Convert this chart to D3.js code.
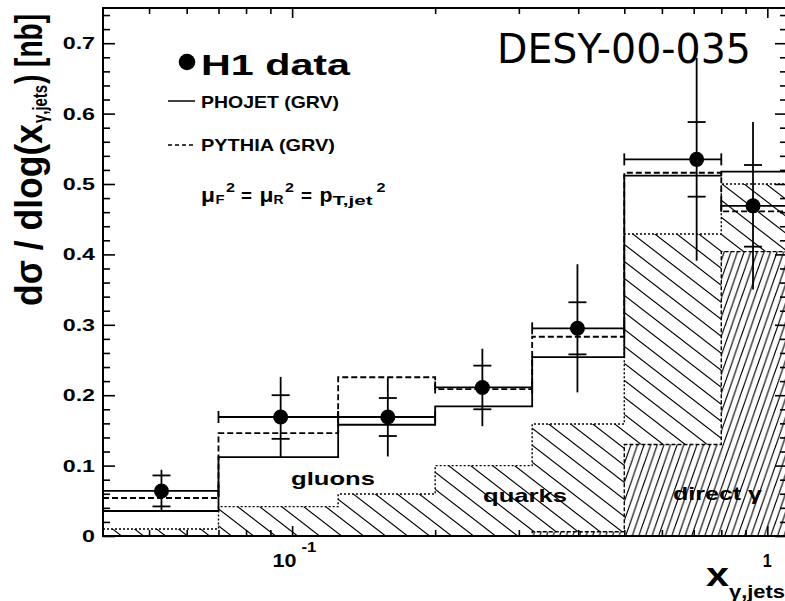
<!DOCTYPE html>
<html>
<head>
<meta charset="utf-8">
<script src="https://cdn.jsdelivr.net/npm/d3@7"></script>
<style>
  body { margin: 0; background: #fff; }
  svg { display: block; }
  text { font-family: "Liberation Sans", Arial, Helvetica, sans-serif; font-weight: bold; fill: #000; }
</style>
</head>
<body>
<svg id="chart" width="785" height="601"></svg>
<script>
// x_gamma,jets bin edges (last bin runs off the right of the frame)
const binEdges = [0.04, 0.07, 0.125, 0.2, 0.32, 0.5, 0.8, 1.1];

// H1 data
const dataX = [0.0531, 0.0946, 0.159, 0.2514, 0.3985, 0.71, 0.933];
const dataY = [0.064, 0.169, 0.169, 0.211, 0.295, 0.535, 0.469];
const statErr = [0.022, 0.031, 0.027, 0.031, 0.037, 0.053, 0.058];
const totErr = [0.030, 0.057, 0.056, 0.055, 0.091, 0.144, 0.119];

// Monte Carlo predictions
const phojet = [0.0355, 0.112, 0.158, 0.184, 0.254, 0.512, 0.5175];
const pythia = [0.054, 0.146, 0.2255, 0.2085, 0.283, 0.516, 0.461];
// stacked components: quarks (on top of direct) and direct photon
const quarks = [0.0099, 0.0417, 0.0597, 0.0999, 0.159, 0.429, 0.500];
const direct = [0, 0, 0, 0, 0.006, 0.130, 0.404];

const yTicks = [0, 0.1, 0.2, 0.3, 0.4, 0.5, 0.6, 0.7];
const yTickLabels = ['0', '0.1', '0.2', '0.3', '0.4', '0.5', '0.6', '0.7'];
const yMinorTicks = [0.02, 0.04, 0.06, 0.08, 0.12, 0.14, 0.16, 0.18, 0.22, 0.24, 0.26, 0.28,
    0.32, 0.34, 0.36, 0.38, 0.42, 0.44, 0.46, 0.48, 0.52, 0.54, 0.56, 0.58,
    0.62, 0.64, 0.66, 0.68, 0.72, 0.74];
const xTicks = [0.1, 1];
const xMinorTicks = [0.05, 0.06, 0.07, 0.08, 0.09, 0.2, 0.3, 0.4, 0.5, 0.6, 0.7, 0.8, 0.9];

const frame = { left: 103, top: 8, right: 787, bottom: 536 };

const svg = d3.select('#chart');
const x = d3.scaleLog().domain([0.04, 1.1]).range([frame.left, frame.right]);
const y = d3.scaleLinear().domain([0, 0.75]).range([frame.bottom, frame.top]);

const nBins = binEdges.length - 1;
const zeros = binEdges.slice(1).map(() => 0);
const valAt = (vals, i) => vals[Math.min(i, nBins - 1)];

const stepLine = d3.line().curve(d3.curveStepAfter).x(d => x(d[0])).y(d => y(d[1]));
const stepPoints = vals => binEdges.map((e, i) => [e, valAt(vals, i)]);
const stepArea = d3.area().curve(d3.curveStepAfter)
    .x(d => x(d.e)).y0(d => y(d.lo)).y1(d => y(d.hi));
const band = (lo, hi) => binEdges.map((e, i) => ({ e, lo: valAt(lo, i), hi: valAt(hi, i) }));

// hatch patterns
const defs = svg.append('defs');
function hatch(id, w, h, down) {
    const d = [-1, 0, 1].map(k => down
        ? `M${(k - 1) * w},${-h}L${(k + 2) * w},${2 * h}`
        : `M${(k - 1) * w},${2 * h}L${(k + 2) * w},${-h}`).join('');
    defs.append('pattern')
        .attr('id', id)
        .attr('patternUnits', 'userSpaceOnUse')
        .attr('width', w)
        .attr('height', h)
        .append('path')
        .attr('d', d)
        .attr('stroke', '#000')
        .attr('stroke-width', 1.1)
        .attr('fill', 'none');
}
hatch('hatch-quarks', 22, 17, true);
hatch('hatch-direct', 6.6, 19, false);

defs.append('clipPath').attr('id', 'plot-clip')
    .append('rect')
    .attr('x', frame.left).attr('y', frame.top)
    .attr('width', frame.right - frame.left).attr('height', frame.bottom - frame.top);

const plot = svg.append('g').attr('clip-path', 'url(#plot-clip)');

plot.append('path')
    .attr('d', stepArea(band(direct, quarks)))
    .attr('fill', 'url(#hatch-quarks)');
plot.append('path')
    .attr('d', stepArea(band(zeros, direct)))
    .attr('fill', 'url(#hatch-direct)');

const histo = (vals, dash, width) => plot.append('path')
    .attr('d', stepLine(stepPoints(vals)))
    .attr('fill', 'none')
    .attr('stroke', '#000')
    .attr('stroke-width', width)
    .attr('stroke-dasharray', dash);

histo(quarks, '2,2', 1.4);
histo(direct, '4,2', 1.4);
histo(pythia, '6,3', 1.8);
histo(phojet, null, 1.8);

// text helper: fixed width where the picture gives one
function put(parent, str, px, py, size, len, anchor = 'start') {
    const t = parent.append('text')
        .attr('x', px)
        .attr('y', py)
        .attr('font-size', size)
        .attr('text-anchor', anchor)
        .text(str);
    if (len) t.attr('textLength', len).attr('lengthAdjust', 'spacingAndGlyphs');
    return t;
}

put(svg, 'gluons', 291, 485, 19, 84);
put(svg, 'quarks', 483, 501.5, 19, 84);
put(svg, 'direct γ', 673, 500, 19, 89);

// data points with stat (inner ticks) and total errors
const points = dataX.map((xv, i) => ({
    xv, v: dataY[i], stat: statErr[i], tot: totErr[i], lo: binEdges[i], hi: binEdges[i + 1]
}));

const data = plot.append('g')
    .attr('stroke', '#000')
    .attr('stroke-width', 1.8);

const pt = data.selectAll('g.point')
    .data(points)
    .enter()
    .append('g')
    .attr('class', 'point');

pt.append('line')
    .attr('x1', d => x(d.lo)).attr('x2', d => x(d.hi))
    .attr('y1', d => y(d.v)).attr('y2', d => y(d.v));
pt.append('line')
    .attr('x1', d => x(d.lo)).attr('x2', d => x(d.lo))
    .attr('y1', d => y(d.v) - 6).attr('y2', d => y(d.v) + 6);
pt.append('line')
    .attr('x1', d => x(d.hi)).attr('x2', d => x(d.hi))
    .attr('y1', d => y(d.v) - 6).attr('y2', d => y(d.v) + 6);
pt.append('line')
    .attr('x1', d => x(d.xv)).attr('x2', d => x(d.xv))
    .attr('y1', d => y(d.v + d.tot)).attr('y2', d => y(d.v - d.tot));
[1, -1].forEach(s => pt.append('line')
    .attr('x1', d => x(d.xv) - 9).attr('x2', d => x(d.xv) + 9)
    .attr('y1', d => y(d.v + s * d.stat)).attr('y2', d => y(d.v + s * d.stat)));
pt.append('circle')
    .attr('cx', d => x(d.xv))
    .attr('cy', d => y(d.v))
    .attr('r', 7.5)
    .attr('stroke', 'none')
    .attr('fill', '#000');

// frame and inward ticks
svg.append('rect')
    .attr('x', frame.left).attr('y', frame.top)
    .attr('width', frame.right - frame.left).attr('height', frame.bottom - frame.top)
    .attr('fill', 'none').attr('stroke', '#000').attr('stroke-width', 2);

const tickAxis = (axis, values, size, tx, ty) => svg.append('g')
    .attr('transform', `translate(${tx},${ty})`)
    .call(axis.tickValues(values).tickSize(-size).tickSizeOuter(0).tickFormat(''))
    .call(g => g.select('.domain').remove())
    .call(g => g.selectAll('line').attr('stroke-width', 1.6));

tickAxis(d3.axisLeft(y), yTicks, 12, frame.left, 0);
tickAxis(d3.axisLeft(y), yMinorTicks, 7, frame.left, 0);
tickAxis(d3.axisRight(y), yTicks, 12, frame.right, 0);
tickAxis(d3.axisRight(y), yMinorTicks, 7, frame.right, 0);
tickAxis(d3.axisBottom(x), xTicks, 10, 0, frame.bottom);
tickAxis(d3.axisBottom(x), xMinorTicks, 6, 0, frame.bottom);
tickAxis(d3.axisTop(x), xTicks, 10, 0, frame.top);
tickAxis(d3.axisTop(x), xMinorTicks, 6, 0, frame.top);

// tick labels
yTicks.forEach((v, i) => {
    const t = put(svg, yTickLabels[i], 95, y(v) + 6, 16, null, 'end');
    t.attr('textLength', t.node().getComputedTextLength() * 1.45).attr('lengthAdjust', 'spacingAndGlyphs');
});
put(svg, '10', x(0.1) - 7.5, 567, 18, 24, 'middle');
put(svg, '-1', 301.5, 552, 14, 15);
put(svg, '1', x(1), 567, 18, 9, 'middle');

// axis titles
put(svg, 'x', 706, 586, 34, 23);
put(svg, 'γ,jets', 729, 597.5, 18, 56);

const yTitle = svg.append('g').attr('transform', 'translate(42,0) rotate(-90)');
put(yTitle, 'dσ / dlog(x', -306, 0, 38, 182);
put(yTitle, 'γ,jets', -123, 5, 20, 38);
put(yTitle, ') [nb]', -84, 0, 38, 70);

// legend
svg.append('circle').attr('cx', 187).attr('cy', 62).attr('r', 8.3).attr('fill', '#000');
put(svg, 'H1 data', 201, 75, 30, 149);
svg.append('line').attr('x1', 168).attr('x2', 195).attr('y1', 101).attr('y2', 101)
    .attr('stroke', '#000').attr('stroke-width', 1.5);
put(svg, 'PHOJET (GRV)', 201, 107.5, 17, 138);
svg.append('line').attr('x1', 168).attr('x2', 195).attr('y1', 145).attr('y2', 145)
    .attr('stroke', '#000').attr('stroke-width', 1.5).attr('stroke-dasharray', '4,3');
put(svg, 'PYTHIA (GRV)', 201, 151, 17, 134);

const formula = svg.append('g');
put(formula, 'μ', 201, 201.5, 20, 14);
put(formula, 'F', 215.5, 204, 13, 9);
put(formula, '2', 226, 192, 13, 9);
put(formula, '=', 241, 201.5, 19, 11);
put(formula, 'μ', 259.5, 201.5, 20, 14);
put(formula, 'R', 273.5, 204, 13, 10);
put(formula, '2', 285, 192, 13, 9);
put(formula, '=', 301, 201.5, 19, 11);
put(formula, 'p', 319.5, 201.5, 20, 13);
put(formula, 'T,jet', 332.5, 205, 13, 40);
put(formula, '2', 376.5, 192, 13, 9);

// preprint number
svg.append('text')
    .attr('x', 497)
    .attr('y', 63)
    .attr('font-size', 41)
    .attr('textLength', 254)
    .attr('lengthAdjust', 'spacingAndGlyphs')
    .style('font-family', '"DejaVu Sans", Verdana, sans-serif')
    .style('font-weight', 'normal')
    .text('DESY-00-035');
</script>
</body>
</html>
